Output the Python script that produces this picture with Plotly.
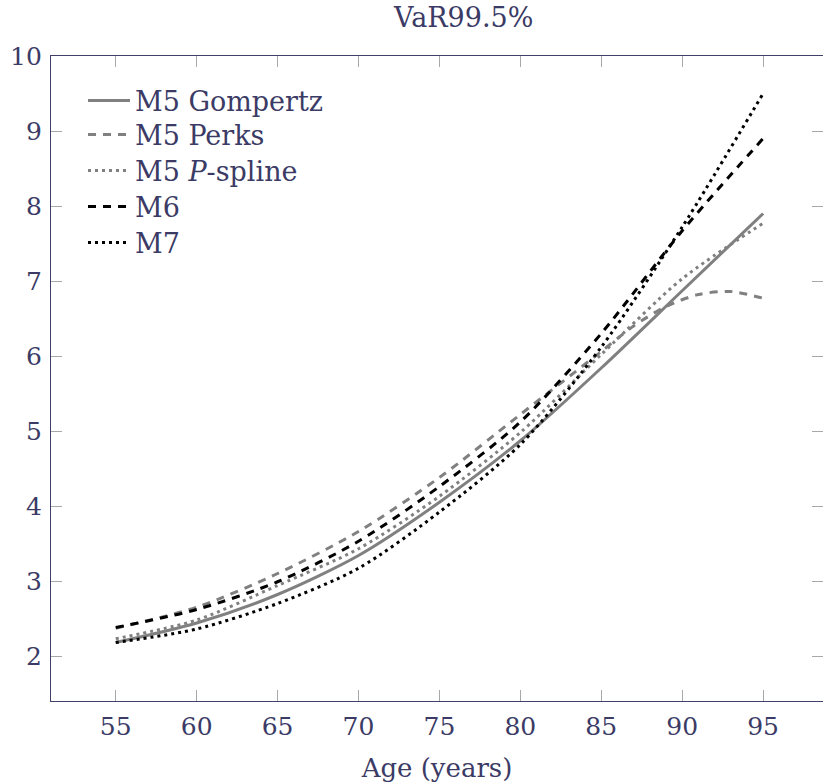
import plotly.graph_objects as go

# ---- data ----
ages = [55, 60, 65, 70, 75, 80, 85, 90, 95]
m5_gompertz = [2.18, 2.44, 2.82, 3.34, 4.05, 4.87, 5.84, 6.87, 7.90]
ages_perks = [55, 60, 65, 70, 75, 80, 85, 87, 89, 91, 93, 95]
m5_perks = [2.37, 2.65, 3.10, 3.66, 4.38, 5.22, 6.06, 6.40, 6.66, 6.82, 6.86, 6.77]
m5_pspline = [2.23, 2.48, 2.94, 3.43, 4.13, 4.98, 6.02, 7.03, 7.77]
m6 = [2.38, 2.62, 2.99, 3.53, 4.26, 5.12, 6.30, 7.67, 8.90]
m7 = [2.18, 2.36, 2.70, 3.17, 3.92, 4.82, 6.12, 7.72, 9.50]

x_ticks = [55, 60, 65, 70, 75, 80, 85, 90, 95]
y_ticks = [2, 3, 4, 5, 6, 7, 8, 9, 10]

TEXT = "#3b3b66"
GRAY = "#808080"
FONT = "DejaVu Serif"

series = [
    ("M5 Gompertz", ages, m5_gompertz, GRAY, "solid", 3),
    ("M5 Perks", ages_perks, m5_perks, GRAY, "8px,7px", 3),
    ("M5 <i>P</i>-spline", ages, m5_pspline, GRAY, "3px,4px", 3),
    ("M6", ages, m6, "black", "8px,7px", 3),
    ("M7", ages, m7, "black", "3px,4px", 3),
]

legend_rows = [101, 135, 171, 207, 243]
H = 784
W = 823

fig = go.Figure()
for i, (name, xs, ys, col, dash, lw) in enumerate(series):
    lg = "legend" if i == 0 else f"legend{i+1}"
    fig.add_trace(go.Scatter(
        x=xs, y=ys, mode="lines", name=name,
        line=dict(color=col, dash=dash, width=lw, shape="spline", smoothing=0.8),
        legend=lg, showlegend=True,
    ))

layout_legends = {}
for i, yy in enumerate(legend_rows):
    key = "legend" if i == 0 else f"legend{i+1}"
    layout_legends[key] = dict(
        x=(83 - 51) / 772, xanchor="left",
        y=1 - (yy - 56) / 645, yanchor="middle",
        bgcolor="rgba(0,0,0,0)", borderwidth=0,
        font=dict(family=FONT, size=27, color=TEXT),
        itemwidth=42,
    )

fig.update_layout(
    width=W, height=H,
    margin=dict(l=51, r=0, t=56, b=83),
    paper_bgcolor="white", plot_bgcolor="white",
    font=dict(family=FONT, size=25, color=TEXT),
    title=dict(text="VaR99.5%", x=440 / W, xanchor="center", xref="paper",
               y=1 - 18 / H, yanchor="middle", yref="container",
               font=dict(family=FONT, size=27, color=TEXT)),
    xaxis=dict(range=[51, 98.7], tickvals=x_ticks, ticktext=[str(v) for v in x_ticks],
               ticks="inside", ticklen=11, tickcolor="#a8a8a8", tickwidth=1,
               showline=True, linecolor="#40406a", linewidth=1.3, mirror="ticks",
               showgrid=False, zeroline=False, ticklabelstandoff=3,
               title=dict(text="Age (years)", standoff=18,
                          font=dict(family=FONT, size=26, color=TEXT)),
               tickfont=dict(family=FONT, size=25, color=TEXT)),
    yaxis=dict(range=[1.4, 10], tickvals=y_ticks, ticktext=[str(v) for v in y_ticks],
               ticks="inside", ticklen=11, tickcolor="#a8a8a8", tickwidth=1,
               showline=True, linecolor="#40406a", linewidth=1.3, mirror="ticks",
               showgrid=False, zeroline=False, ticklabelstandoff=3,
               tickfont=dict(family=FONT, size=25, color=TEXT)),
    **layout_legends,
)

fig.write_html("out.html")
